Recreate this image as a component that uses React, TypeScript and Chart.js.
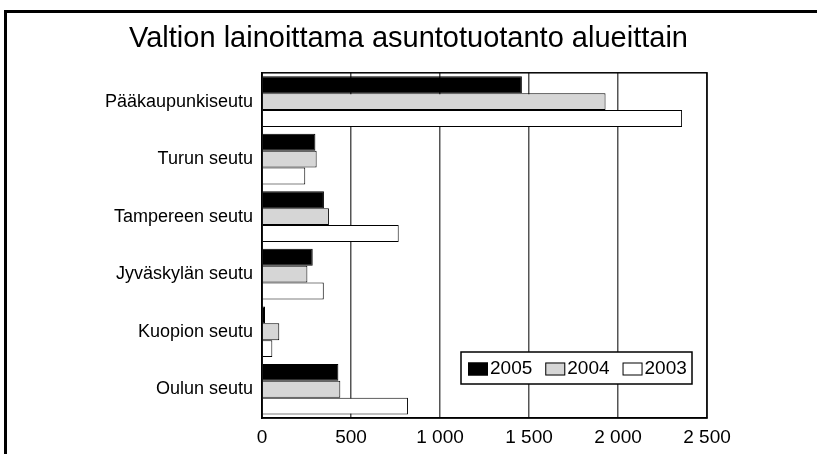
import React, { useEffect, useRef } from "react";
import { Chart, registerables } from "chart.js";

Chart.register(...registerables);

const categories = [
  "Pääkaupunkiseutu",
  "Turun seutu",
  "Tampereen seutu",
  "Jyväskylän seutu",
  "Kuopion seutu",
  "Oulun seutu",
];
const values2005 = [1460, 300, 348, 285, 17, 429];
const values2004 = [1930, 307, 376, 255, 97, 440];
const values2003 = [2360, 243, 768, 347, 58, 820];
const seriesLabels = ["2005", "2004", "2003"];
const titleText = "Valtion lainoittama asuntotuotanto alueittain";
const FONT = "'Liberation Sans', Arial, sans-serif";

const framePlugin = {
  id: "frame",
  beforeDraw(chart: any) {
    const ctx = chart.ctx;
    ctx.save();
    ctx.fillStyle = "#fff";
    ctx.fillRect(0, 0, chart.width, chart.height);
    ctx.strokeStyle = "#000";
    ctx.lineWidth = 3;
    ctx.beginPath();
    ctx.moveTo(5.5, chart.height);
    ctx.lineTo(5.5, 11.5);
    ctx.lineTo(chart.width, 11.5);
    ctx.stroke();
    ctx.restore();
  },
  afterDraw(chart: any) {
    const { ctx, chartArea } = chart;
    ctx.save();
    ctx.strokeStyle = "#000";
    ctx.lineWidth = 1.5;
    ctx.strokeRect(chartArea.left, chartArea.top, chartArea.right - chartArea.left, chartArea.bottom - chartArea.top);
    ctx.restore();
  },
};

const innerLegendPlugin = {
  id: "innerLegend",
  afterDatasetsDraw(chart: any) {
    const { ctx, chartArea } = chart;
    const boxW = 231;
    const boxH = 32;
    const x0 = chartArea.right - 15 - boxW;
    const y0 = chartArea.bottom - 34 - boxH;
    ctx.save();
    ctx.fillStyle = "#fff";
    ctx.fillRect(x0, y0, boxW, boxH);
    ctx.strokeStyle = "#000";
    ctx.lineWidth = 1.5;
    ctx.strokeRect(x0, y0, boxW, boxH);
    ctx.font = `19px ${FONT}`;
    ctx.textBaseline = "middle";
    ctx.textAlign = "left";
    let x = x0 + 7;
    const cy = y0 + boxH / 2 + 1;
    chart.data.datasets.forEach((ds: any) => {
      ctx.fillStyle = ds.backgroundColor;
      ctx.fillRect(x, cy - 6.5, 20, 13);
      ctx.strokeStyle = "#000";
      ctx.lineWidth = 1;
      ctx.strokeRect(x + 0.5, cy - 6, 19, 12);
      ctx.fillStyle = "#000";
      ctx.fillText(ds.label, x + 22, cy);
      x += 22 + ctx.measureText(ds.label).width + 13;
    });
    ctx.restore();
  },
};

export default function App() {
  const ref = useRef<HTMLCanvasElement | null>(null);
  useEffect(() => {
    if (!ref.current) return;
    const chart = new Chart(ref.current, {
      type: "bar",
      data: {
        labels: categories,
        datasets: [
          { label: seriesLabels[0], data: values2005, backgroundColor: "#000000", borderColor: "#000", borderWidth: 1 },
          { label: seriesLabels[1], data: values2004, backgroundColor: "#d6d6d6", borderColor: "#000", borderWidth: 1 },
          { label: seriesLabels[2], data: values2003, backgroundColor: "#ffffff", borderColor: "#000", borderWidth: 1 },
        ],
      },
      options: {
        indexAxis: "y",
        responsive: false,
        animation: false,
        devicePixelRatio: 1,
        layout: { padding: { top: 0, right: 0, bottom: 0, left: 0 } },
        datasets: { bar: { categoryPercentage: 0.88, barPercentage: 1.0 } },
        plugins: {
          legend: { display: false },
          tooltip: { enabled: false },
          title: {
            display: true,
            text: titleText,
            color: "#000",
            font: { family: FONT, size: 29, weight: "normal" },
            padding: { top: 22, bottom: 16 },
          },
        },
        scales: {
          x: {
            min: 0,
            max: 2500,
            ticks: {
              stepSize: 500,
              color: "#000",
              font: { family: FONT, size: 19 },
              padding: 8,
              maxRotation: 0,
              callback: (v: any) => Number(v).toLocaleString("en-US").replace(/,/g, " "),
            },
            grid: { color: "#555", lineWidth: 1.5, drawTicks: false },
            border: { display: true, color: "#000", width: 1.5 },
            afterFit: (s: any) => { s.height = 36; },
          },
          y: {
            ticks: { color: "#000", font: { family: FONT, size: 18 }, padding: 9 },
            grid: { display: false, drawTicks: false },
            border: { display: true, color: "#000", width: 1.5 },
            afterFit: (s: any) => { s.width = 262; },
          },
          ySpacer: {
            type: "category",
            position: "right",
            display: true,
            ticks: { display: false },
            grid: { display: false, drawTicks: false },
            border: { display: false },
            afterFit: (s: any) => { s.width = 110; },
          },
        },
      },
      plugins: [framePlugin, innerLegendPlugin],
    });
    return () => chart.destroy();
  }, []);
  return (
    <div style={{ position: "fixed", left: 0, top: 0, width: 817, height: 454, background: "#fff" }}>
      <canvas ref={ref} width={817} height={454} style={{ display: "block" }} />
    </div>
  );
}
